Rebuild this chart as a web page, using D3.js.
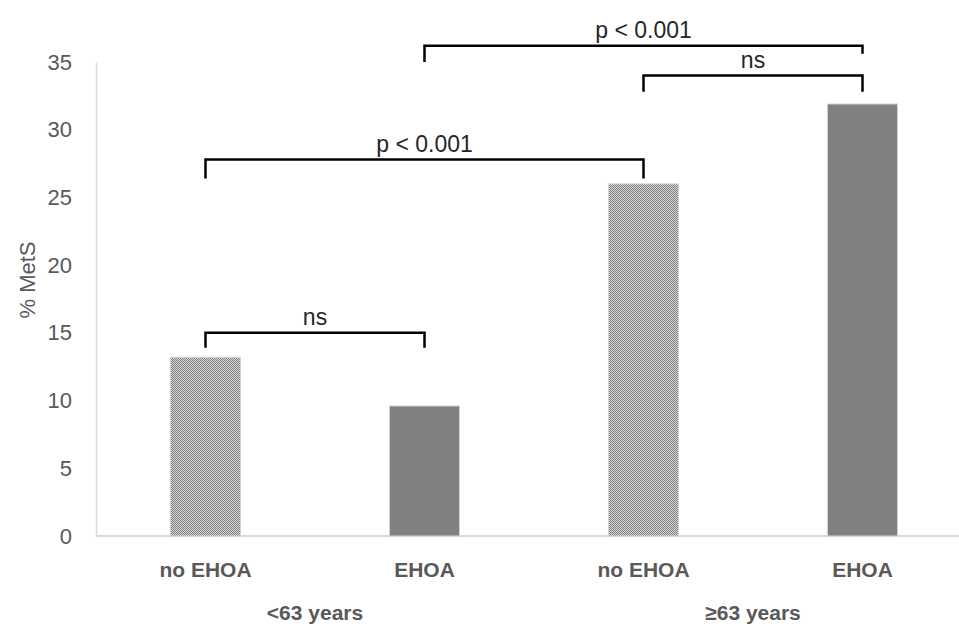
<!DOCTYPE html>
<html>
<head>
<meta charset="utf-8">
<script src="https://cdn.jsdelivr.net/npm/d3@7"></script>
<style>
  body { margin: 0; background: #fff; }
  text { font-family: "Liberation Sans", Arial, sans-serif; }
</style>
</head>
<body>
<svg id="chart"></svg>
<script>
// dati
const categories = ["no EHOA", "EHOA", "no EHOA ", "EHOA "];
const catLabels = ["no EHOA", "EHOA", "no EHOA", "EHOA"];
const groups = ["<63 years", "\u226563 years"];
const values = [13.2, 9.6, 26.0, 31.9];
const hatched = [true, false, true, false];
const yTicks = [0, 5, 10, 15, 20, 25, 30, 35];

// confronti: [da, a, livello, etichetta, caduta sinistra, caduta destra]
const brackets = [
  [0, 1, 15.0, "ns", 13.9, 13.9],
  [0, 2, 27.8, "p < 0.001", 26.4, 26.4],
  [2, 3, 34.0, "ns", 32.8, 32.8],
  [1, 3, 36.2, "p < 0.001", 35.0, 35.6]
];

const W = 959, H = 629;
const margin = { top: 62, right: -13, bottom: 93, left: 96 };
const width = W - margin.left - margin.right;
const height = H - margin.top - margin.bottom;

const svg = d3.select("#chart").attr("width", W).attr("height", H);

// pattern a scacchi
const defs = svg.append("defs");
const pat = defs.append("pattern")
  .attr("id", "checker")
  .attr("width", 2).attr("height", 2)
  .attr("patternUnits", "userSpaceOnUse");
pat.append("rect").attr("width", 2).attr("height", 2).attr("fill", "#d6d6d6");
pat.append("rect").attr("width", 1).attr("height", 1).attr("fill", "#808080");
pat.append("rect").attr("x", 1).attr("y", 1).attr("width", 1).attr("height", 1).attr("fill", "#808080");

const g = svg.append("g").attr("transform", `translate(${margin.left},${margin.top})`);

// scale
const x = d3.scaleBand()
  .domain(categories)
  .range([0, width])
  .paddingInner(0.68)
  .paddingOuter(0.34);

const y = d3.scaleLinear().domain([0, 35]).range([height, 0]);

// asse Y
const yAxis = g.append("g")
  .call(d3.axisLeft(y).tickValues(yTicks).tickSize(0).tickPadding(24));
yAxis.select(".domain").attr("stroke", "#d9d9d9").attr("stroke-width", 1.5);
yAxis.selectAll("text")
  .attr("fill", "#595959")
  .style("font-size", "22px")
  .style("font-family", "Liberation Sans, Arial, sans-serif");

// linea di base
g.append("line")
  .attr("x1", 0).attr("x2", W - margin.left)
  .attr("y1", y(0)).attr("y2", y(0))
  .attr("stroke", "#d9d9d9").attr("stroke-width", 2);

// etichetta asse Y
g.append("text")
  .attr("transform", "rotate(-90)")
  .attr("x", -(280 - margin.top))
  .attr("y", -margin.left + 35)
  .attr("text-anchor", "middle")
  .attr("fill", "#595959")
  .style("font-size", "22px")
  .text("% MetS");

// barre
g.selectAll("rect.bar")
  .data(values)
  .join("rect")
  .attr("class", "bar")
  .attr("x", (d, i) => x(categories[i]))
  .attr("y", d => y(d))
  .attr("width", x.bandwidth())
  .attr("height", d => y(0) - y(d))
  .attr("fill", (d, i) => hatched[i] ? "url(#checker)" : "#808080")
  .attr("stroke", "#d4d4d4")
  .attr("stroke-width", 1);

// etichette categorie
g.selectAll("text.cat")
  .data(catLabels)
  .join("text")
  .attr("class", "cat")
  .attr("x", (d, i) => x(categories[i]) + x.bandwidth() / 2)
  .attr("y", height + 41)
  .attr("text-anchor", "middle")
  .attr("fill", "#595959")
  .style("font-size", "21px")
  .style("font-weight", "bold")
  .text(d => d);

// etichette gruppi
g.selectAll("text.grp")
  .data(groups)
  .join("text")
  .attr("class", "grp")
  .attr("x", (d, i) => (x(categories[i * 2]) + x(categories[i * 2 + 1]) + x.bandwidth()) / 2)
  .attr("y", height + 84)
  .attr("text-anchor", "middle")
  .attr("fill", "#595959")
  .style("font-size", "21px")
  .style("font-weight", "bold")
  .text(d => d);

// parentesi di significatività
const cx = i => x(categories[i]) + x.bandwidth() / 2;
const br = g.selectAll("g.br").data(brackets).join("g").attr("class", "br");
br.append("path")
  .attr("d", d => `M${cx(d[0])},${y(d[4])}V${y(d[2])}H${cx(d[1])}V${y(d[5])}`)
  .attr("fill", "none")
  .attr("stroke", "#000")
  .attr("stroke-width", 2.5);
br.append("text")
  .attr("x", d => (cx(d[0]) + cx(d[1])) / 2)
  .attr("y", d => y(d[2]) - 8)
  .attr("text-anchor", "middle")
  .attr("fill", "#262626")
  .style("font-size", "23px")
  .text(d => d[3]);
</script>
</body>
</html>
